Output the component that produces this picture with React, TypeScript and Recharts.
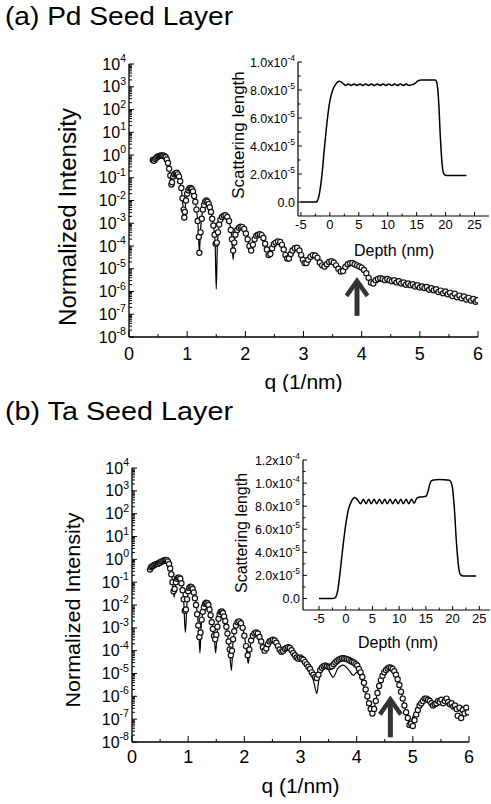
import React from 'react';
import { ComposedChart, LineChart, Line, Scatter, XAxis, YAxis, ReferenceLine } from 'recharts';

const FONT = '"Liberation Sans", Arial, Helvetica, sans-serif';

// ---------- main axes ----------
const qMajorTicks = [0, 1, 2, 3, 4, 5, 6];
const qMinorTicks = [0.5, 1.5, 2.5, 3.5, 4.5, 5.5];
const intensityExponents = [4, 3, 2, 1, 0, -1, -2, -3, -4, -5, -6, -7, -8];

// ---------- (a) Pd seed layer : [q (1/nm), log10 normalized intensity] ----------
const pdFitLog: [number, number][] = [
  [0.41, -0.25], [0.45, -0.15], [0.5, -0.06], [0.55, -0.02], [0.6, -0.03], [0.64, -0.12], [0.68, -0.45],
  [0.71, -0.95], [0.73, -1.35], [0.75, -1.1], [0.78, -0.85], [0.82, -0.78], [0.86, -0.95], [0.9, -1.5],
  [0.93, -2.3], [0.95, -2.85], [0.97, -2.2], [1.0, -1.7], [1.05, -1.45], [1.1, -1.6], [1.15, -2.2],
  [1.19, -3.2], [1.21, -4.3], [1.23, -3.3], [1.27, -2.4], [1.33, -2.0], [1.38, -2.2], [1.43, -2.8],
  [1.48, -3.8], [1.5, -5.9], [1.52, -3.9], [1.56, -3.0], [1.62, -2.7], [1.68, -2.65], [1.73, -3.0],
  [1.77, -3.7], [1.79, -4.6], [1.81, -3.9], [1.86, -3.3], [1.93, -3.15], [1.98, -3.25], [2.04, -3.7],
  [2.1, -4.25], [2.15, -3.85], [2.2, -3.55], [2.26, -3.5], [2.32, -3.7], [2.37, -4.1], [2.42, -4.45],
  [2.47, -4.15], [2.53, -3.85], [2.59, -3.8], [2.65, -4.05], [2.7, -4.4], [2.75, -4.6], [2.8, -4.3],
  [2.87, -4.08], [2.93, -4.2], [2.98, -4.55], [3.04, -4.8], [3.1, -4.55], [3.18, -4.4], [3.25, -4.55],
  [3.31, -4.8], [3.37, -4.9], [3.43, -4.72], [3.49, -4.67], [3.55, -4.8], [3.61, -5.05], [3.66, -5.15],
  [3.72, -4.9], [3.8, -4.76], [3.88, -4.8], [3.95, -4.88], [4.02, -4.97], [4.08, -5.15], [4.14, -5.45],
  [4.19, -5.65], [4.25, -5.5], [4.35, -5.44], [4.45, -5.48], [4.55, -5.55], [4.65, -5.6], [4.75, -5.65],
  [4.85, -5.7], [4.95, -5.74], [5.05, -5.8], [5.15, -5.85], [5.25, -5.92], [5.35, -6.0], [5.45, -6.08],
  [5.55, -6.15], [5.65, -6.22], [5.75, -6.3], [5.85, -6.36], [5.98, -6.43],
];

const pdObsLog: [number, number][] = [
  [0.41, -0.22], [0.43, -0.25], [0.45, -0.18], [0.47, -0.12], [0.49, -0.08], [0.51, -0.05], [0.53, -0.04],
  [0.55, -0.02], [0.57, -0.03], [0.59, -0.02], [0.61, -0.05], [0.63, -0.1], [0.65, -0.2], [0.67, -0.35],
  [0.69, -0.6], [0.71, -0.9], [0.73, -1.3], [0.74, -1.2], [0.76, -0.95], [0.78, -0.85], [0.8, -0.8],
  [0.82, -0.78], [0.84, -0.85], [0.86, -0.95], [0.88, -1.15], [0.9, -1.45], [0.92, -1.9], [0.94, -2.4],
  [0.95, -2.75], [0.96, -2.5], [0.98, -2.0], [1.0, -1.7], [1.02, -1.55], [1.04, -1.47], [1.06, -1.45],
  [1.08, -1.5], [1.1, -1.6], [1.12, -1.8], [1.14, -2.05], [1.16, -2.4], [1.18, -2.9], [1.2, -3.6],
  [1.21, -4.3], [1.23, -3.4], [1.25, -2.8], [1.27, -2.4], [1.29, -2.2], [1.31, -2.05], [1.33, -2.0],
  [1.35, -2.05], [1.37, -2.15], [1.39, -2.3], [1.41, -2.5], [1.43, -2.8], [1.45, -3.1], [1.47, -3.5],
  [1.49, -3.9], [1.51, -3.85], [1.53, -3.4], [1.55, -3.05], [1.57, -2.85], [1.6, -2.72], [1.63, -2.67],
  [1.66, -2.65], [1.69, -2.72], [1.72, -2.9], [1.75, -3.3], [1.77, -3.7], [1.79, -4.2], [1.81, -3.85],
  [1.83, -3.5], [1.86, -3.3], [1.89, -3.2], [1.92, -3.15], [1.95, -3.17], [1.98, -3.25], [2.01, -3.45],
  [2.04, -3.7], [2.07, -4.0], [2.1, -4.2], [2.13, -3.95], [2.16, -3.7], [2.19, -3.55], [2.22, -3.5],
  [2.25, -3.48], [2.28, -3.52], [2.31, -3.65], [2.34, -3.9], [2.37, -4.15], [2.4, -4.4], [2.43, -4.35],
  [2.46, -4.1], [2.49, -3.92], [2.52, -3.85], [2.56, -3.8], [2.6, -3.82], [2.63, -3.95], [2.66, -4.15],
  [2.69, -4.4], [2.72, -4.55], [2.75, -4.55], [2.78, -4.35], [2.81, -4.2], [2.85, -4.1], [2.89, -4.08],
  [2.93, -4.2], [2.96, -4.4], [2.99, -4.6], [3.02, -4.75], [3.05, -4.75], [3.08, -4.6], [3.12, -4.47],
  [3.16, -4.4], [3.2, -4.42], [3.24, -4.52], [3.28, -4.72], [3.32, -4.85], [3.36, -4.9], [3.4, -4.8],
  [3.44, -4.7], [3.48, -4.67], [3.52, -4.72], [3.56, -4.85], [3.6, -5.0], [3.64, -5.12], [3.68, -5.1],
  [3.72, -4.92], [3.76, -4.8], [3.8, -4.76], [3.84, -4.75], [3.88, -4.8], [3.92, -4.85], [3.96, -4.9],
  [4.0, -4.95], [4.04, -5.05], [4.08, -5.2], [4.12, -5.4], [4.16, -5.6], [4.2, -5.65], [4.24, -5.5],
  [4.28, -5.45], [4.32, -5.42], [4.36, -5.45], [4.4, -5.5], [4.44, -5.45], [4.48, -5.5], [4.52, -5.55],
  [4.56, -5.5], [4.6, -5.6], [4.64, -5.55], [4.68, -5.65], [4.72, -5.6], [4.76, -5.7], [4.8, -5.65],
  [4.84, -5.72], [4.88, -5.68], [4.92, -5.78], [4.96, -5.72], [5.0, -5.82], [5.04, -5.78], [5.08, -5.85],
  [5.12, -5.8], [5.16, -5.92], [5.2, -5.86], [5.24, -5.95], [5.28, -5.9], [5.32, -6.02], [5.36, -5.96],
  [5.4, -6.08], [5.44, -6.0], [5.48, -6.12], [5.52, -6.06], [5.56, -6.2], [5.6, -6.1], [5.64, -6.25],
  [5.68, -6.18], [5.72, -6.3], [5.76, -6.22], [5.8, -6.35], [5.84, -6.28], [5.88, -6.4], [5.92, -6.33],
  [5.96, -6.45], [5.99, -6.38],
];

// ---------- (b) Ta seed layer ----------
const taFitLog: [number, number][] = [
  [0.32, -0.4], [0.38, -0.3], [0.45, -0.2], [0.52, -0.1], [0.58, -0.04], [0.62, -0.03], [0.66, -0.15],
  [0.7, -0.55], [0.73, -1.2], [0.75, -1.66], [0.77, -1.2], [0.81, -0.85], [0.85, -0.78], [0.89, -1.1],
  [0.92, -1.8], [0.95, -3.2], [0.98, -1.9], [1.01, -1.35], [1.05, -1.2], [1.1, -1.4], [1.15, -2.1],
  [1.19, -3.2], [1.21, -4.1], [1.23, -3.0], [1.28, -2.1], [1.33, -1.9], [1.38, -2.2], [1.43, -2.9],
  [1.47, -3.6], [1.49, -4.1], [1.51, -3.4], [1.55, -2.5], [1.59, -2.3], [1.63, -2.45], [1.68, -3.0],
  [1.73, -3.8], [1.77, -4.86], [1.8, -3.6], [1.85, -2.95], [1.91, -2.72], [1.96, -2.9], [2.01, -3.5],
  [2.05, -4.2], [2.07, -4.56], [2.1, -3.9], [2.16, -3.35], [2.23, -3.2], [2.29, -3.5], [2.34, -3.9],
  [2.37, -4.07], [2.42, -3.75], [2.48, -3.58], [2.54, -3.54], [2.6, -3.75], [2.67, -4.1], [2.73, -3.95],
  [2.81, -3.9], [2.88, -4.15], [2.95, -4.4], [3.0, -4.3], [3.06, -4.35], [3.12, -4.6], [3.18, -4.9],
  [3.24, -5.4], [3.29, -5.87], [3.33, -5.2], [3.38, -4.8], [3.43, -4.63], [3.5, -4.85], [3.58, -5.17],
  [3.66, -4.8], [3.76, -4.63], [3.86, -4.85], [3.94, -5.08], [4.0, -4.95], [4.06, -5.1], [4.12, -5.5],
  [4.18, -6.0], [4.24, -6.5], [4.29, -6.75], [4.34, -6.2], [4.4, -5.5], [4.48, -5.0], [4.59, -4.73],
  [4.68, -4.9], [4.76, -5.5], [4.84, -6.3], [4.9, -6.9], [4.95, -7.2], [5.0, -6.9], [5.06, -6.6],
  [5.12, -6.35], [5.2, -6.15], [5.28, -6.2], [5.36, -6.3], [5.44, -6.4], [5.52, -6.25], [5.6, -6.2],
  [5.68, -6.35], [5.76, -6.5], [5.84, -6.45], [5.92, -6.5],
];

const taObsLog: [number, number][] = [
  [0.32, -0.45], [0.34, -0.35], [0.36, -0.3], [0.38, -0.28], [0.4, -0.25], [0.42, -0.22], [0.44, -0.2],
  [0.46, -0.2], [0.48, -0.15], [0.5, -0.15], [0.52, -0.1], [0.54, -0.1], [0.56, -0.06], [0.58, -0.04],
  [0.6, -0.03], [0.62, -0.04], [0.64, -0.1], [0.66, -0.2], [0.68, -0.4], [0.7, -0.65], [0.72, -1.0],
  [0.74, -1.4], [0.76, -1.3], [0.78, -1.0], [0.8, -0.85], [0.82, -0.8], [0.84, -0.8], [0.86, -0.85],
  [0.88, -1.05], [0.9, -1.35], [0.92, -1.75], [0.94, -2.25], [0.96, -2.2], [0.98, -1.75], [1.0, -1.4],
  [1.02, -1.25], [1.04, -1.2], [1.06, -1.22], [1.08, -1.3], [1.1, -1.45], [1.12, -1.7], [1.14, -2.0],
  [1.16, -2.4], [1.18, -2.9], [1.2, -3.4], [1.22, -3.2], [1.24, -2.65], [1.26, -2.3], [1.28, -2.1],
  [1.3, -1.95], [1.32, -1.9], [1.34, -1.92], [1.36, -2.0], [1.38, -2.2], [1.4, -2.45], [1.42, -2.75],
  [1.44, -3.05], [1.46, -3.35], [1.48, -3.5], [1.5, -3.3], [1.52, -2.95], [1.54, -2.6], [1.56, -2.4],
  [1.58, -2.3], [1.6, -2.28], [1.62, -2.35], [1.64, -2.5], [1.66, -2.7], [1.68, -2.95], [1.7, -3.25],
  [1.72, -3.6], [1.74, -3.95], [1.76, -4.2], [1.78, -4.0], [1.8, -3.5], [1.82, -3.15], [1.85, -2.9],
  [1.88, -2.75], [1.91, -2.72], [1.94, -2.8], [1.97, -3.0], [2.0, -3.35], [2.03, -3.8], [2.06, -4.2],
  [2.09, -3.95], [2.12, -3.55], [2.15, -3.35], [2.18, -3.25], [2.21, -3.2], [2.24, -3.25], [2.27, -3.4],
  [2.3, -3.6], [2.33, -3.85], [2.36, -4.0], [2.39, -3.9], [2.42, -3.72], [2.45, -3.6], [2.48, -3.55],
  [2.51, -3.52], [2.54, -3.55], [2.57, -3.65], [2.6, -3.8], [2.63, -3.95], [2.66, -4.05], [2.69, -4.0],
  [2.72, -3.92], [2.75, -3.88], [2.78, -3.85], [2.81, -3.88], [2.84, -3.98], [2.87, -4.1], [2.9, -4.2],
  [2.93, -4.3], [2.96, -4.35], [2.99, -4.3], [3.02, -4.35], [3.05, -4.4], [3.08, -4.5], [3.11, -4.6],
  [3.14, -4.7], [3.17, -4.8], [3.2, -4.95], [3.23, -5.05], [3.26, -5.15], [3.29, -5.2], [3.32, -5.05],
  [3.35, -4.85], [3.38, -4.75], [3.41, -4.68], [3.44, -4.65], [3.47, -4.68], [3.5, -4.7], [3.53, -4.72],
  [3.56, -4.68], [3.59, -4.6], [3.62, -4.52], [3.65, -4.45], [3.68, -4.4], [3.71, -4.36], [3.74, -4.33],
  [3.77, -4.33], [3.8, -4.35], [3.83, -4.38], [3.86, -4.4], [3.89, -4.45], [3.92, -4.48], [3.95, -4.52],
  [3.98, -4.58], [4.01, -4.65], [4.04, -4.8], [4.07, -4.95], [4.1, -5.15], [4.13, -5.4], [4.16, -5.7],
  [4.19, -6.0], [4.22, -6.3], [4.25, -6.55], [4.28, -6.75], [4.31, -6.55], [4.34, -6.2], [4.37, -5.85],
  [4.4, -5.55], [4.43, -5.3], [4.46, -5.1], [4.49, -4.95], [4.52, -4.85], [4.55, -4.78], [4.58, -4.73],
  [4.61, -4.75], [4.64, -4.8], [4.67, -4.9], [4.7, -5.05], [4.73, -5.25], [4.76, -5.5], [4.79, -5.8],
  [4.82, -6.1], [4.85, -6.4], [4.88, -6.7], [4.91, -6.95], [4.94, -7.25], [4.97, -7.2], [5.0, -7.3],
  [5.03, -7.05], [5.06, -6.8], [5.09, -6.6], [5.12, -6.4], [5.15, -6.3], [5.18, -6.2], [5.21, -6.1],
  [5.24, -6.1], [5.27, -6.15], [5.3, -6.2], [5.33, -6.3], [5.36, -6.4], [5.39, -6.35], [5.42, -6.3],
  [5.45, -6.2], [5.48, -6.25], [5.51, -6.15], [5.54, -6.3], [5.57, -6.2], [5.6, -6.1], [5.63, -6.25],
  [5.66, -6.35], [5.69, -6.3], [5.72, -6.45], [5.75, -6.4], [5.78, -6.55], [5.8, -6.85], [5.83, -6.5],
  [5.86, -6.95], [5.89, -6.6], [5.92, -6.75], [5.95, -6.5], [5.98, -6.7],
];

// arrows marking the feature: q position, base and tip intensities
const pdArrow = { q: 3.92, base: 8.5e-8, tip: 3.6e-6 };
const taArrow = { q: 4.6, base: 1.6e-8, tip: 9e-7 };

// ---------- insets : [depth (nm), scattering length in units of 1e-5] ----------
const depthMajorTicks = [-5, 0, 5, 10, 15, 20, 25];
const depthMinorTicks = [-2.5, 2.5, 7.5, 12.5, 17.5, 22.5];

const pdProfile: [number, number][] = [
  [-5, 0], [-2.5, 0], [-2.2, 0.05], [-1.8, 0.6], [-1.4, 1.8], [-0.9, 4.0], [-0.4, 6.0], [0, 7.2],
  [0.5, 8.0], [1.0, 8.4], [1.6, 8.62], [2.2, 8.5], [2.7, 8.33], [3.2, 8.42], [3.7, 8.33], [4.2, 8.42],
  [4.7, 8.33], [5.2, 8.42], [5.7, 8.33], [6.2, 8.42], [6.7, 8.33], [7.2, 8.42], [7.7, 8.33], [8.2, 8.42],
  [8.7, 8.33], [9.2, 8.42], [9.7, 8.33], [10.2, 8.42], [10.7, 8.33], [11.2, 8.42], [11.7, 8.33],
  [12.2, 8.42], [12.7, 8.33], [13.2, 8.42], [13.7, 8.33], [14.2, 8.38], [14.7, 8.45], [15.2, 8.65],
  [15.8, 8.72], [17, 8.72], [18.2, 8.72], [18.5, 8.5], [18.8, 7.2], [19.1, 4.6], [19.4, 2.7],
  [19.7, 2.0], [20.1, 1.9], [21.5, 1.9], [23.6, 1.9],
];

const taProfile: [number, number][] = [
  [-5, 0], [-2.5, 0], [-2.0, 0.05], [-1.5, 0.7], [-1.0, 2.5], [-0.5, 4.6], [0, 6.4], [0.5, 7.7],
  [1.0, 8.35], [1.7, 8.75], [2.3, 8.5], [2.8, 8.2], [3.3, 8.6], [3.8, 8.2], [4.3, 8.6], [4.8, 8.2],
  [5.3, 8.6], [5.8, 8.2], [6.3, 8.6], [6.8, 8.2], [7.3, 8.6], [7.8, 8.2], [8.3, 8.6], [8.8, 8.2],
  [9.3, 8.6], [9.8, 8.2], [10.3, 8.6], [10.8, 8.2], [11.3, 8.6], [11.8, 8.2], [12.3, 8.6], [12.8, 8.25],
  [13.3, 8.7], [14, 8.8], [15, 8.85], [15.4, 9.3], [15.8, 10.0], [16.2, 10.25], [17.5, 10.3],
  [19.4, 10.25], [19.9, 9.8], [20.3, 8.0], [20.7, 5.0], [21.1, 2.8], [21.5, 2.05], [22, 1.95], [24.4, 1.95],
];

const slTicksA = [
  { v: 0, m: '0.0', e: '' }, { v: 2, m: '2.0x10', e: '-5' }, { v: 4, m: '4.0x10', e: '-5' },
  { v: 6, m: '6.0x10', e: '-5' }, { v: 8, m: '8.0x10', e: '-5' }, { v: 10, m: '1.0x10', e: '-4' },
];
const slTicksB = [
  { v: 0, m: '0.0', e: '' }, { v: 2, m: '2.0x10', e: '-5' }, { v: 4, m: '4.0x10', e: '-5' },
  { v: 6, m: '6.0x10', e: '-5' }, { v: 8, m: '8.0x10', e: '-5' }, { v: 10, m: '1.0x10', e: '-4' },
  { v: 12, m: '1.2x10', e: '-4' },
];
const slMinorA = [1, 3, 5, 7, 9];
const slMinorB = [1, 3, 5, 7, 9, 11];

// ---------- helpers ----------
const toRows = (arr: [number, number][]) => arr.map(([q, lg]) => ({ q, I: Math.pow(10, lg) }));
const toProfileRows = (arr: [number, number][]) => arr.map(([d, s]) => ({ d, s }));

const majorIntensityTicks = intensityExponents.map((e) => Math.pow(10, e));
const minorIntensityTicks: number[] = [];
intensityExponents.slice(1).forEach((e) => {
  for (let m = 2; m <= 9; m++) minorIntensityTicks.push(m * Math.pow(10, e));
});
const allIntensityTicks = [...majorIntensityTicks, ...minorIntensityTicks];

const makeLogTick = (fontSize: number) => (props: any) => {
  const { x, y, payload } = props;
  const v = payload.value as number;
  const e = Math.round(Math.log10(v));
  const major = Math.abs(v / Math.pow(10, e) - 1) < 1e-6;
  return (
    <g>
      <line x1={x} x2={x + (major ? 5 : 3)} y1={y} y2={y} stroke="#000" strokeWidth={1} />
      {major && (
        <text x={x - 3} y={y + 5.5} textAnchor="end" fontFamily={FONT} fontSize={fontSize} fill="#000">
          10
          <tspan dy={-7.5} fontSize={fontSize * 0.66}>{e}</tspan>
        </text>
      )}
    </g>
  );
};

const makeQTick = (labelOffset: number) => (props: any) => {
  const { x, y, payload } = props;
  const v = payload.value as number;
  const major = qMajorTicks.includes(v);
  return (
    <g>
      <line x1={x} x2={x} y1={y} y2={y - (major ? 6 : 3)} stroke="#000" strokeWidth={1} />
      {major && (
        <text x={x} y={y + labelOffset} textAnchor="middle" fontFamily={FONT} fontSize={18} fill="#000">
          {v}
        </text>
      )}
    </g>
  );
};

const ArrowShape = (p: any) => {
  const { x1, y1, y2 } = p;
  const top = Math.min(y1, y2);
  const bottom = Math.max(y1, y2);
  const headH = 17;
  const headW = 21;
  return (
    <g>
      <line x1={x1} x2={x1} y1={bottom} y2={top + 3} stroke="#333" strokeWidth={5} />
      <polyline
        points={`${x1 - headW / 2},${top + headH} ${x1},${top + 2} ${x1 + headW / 2},${top + headH}`}
        fill="none"
        stroke="#333"
        strokeWidth={4.5}
        strokeLinejoin="miter"
      />
    </g>
  );
};

const Dot = (p: any) => (
  <circle cx={p.cx} cy={p.cy} r={2.6} fill="#fff" stroke="#111" strokeWidth={1.2} />
);

type PanelProps = {
  title: string;
  fit: [number, number][];
  obs: [number, number][];
  arrow: { q: number; base: number; tip: number };
  height: number;
  marginTop: number;
  marginRight: number;
  marginBottom: number;
  yAxisWidth: number;
  titleY: number;
  yTitle: { x: number; y: number; size: number; len: number };
  xTitleY: number;
  qLabelOffset: number;
};

const MainPanel = (p: PanelProps) => {
  const fitRows = toRows(p.fit);
  const obsRows = toRows(p.obs);
  const LogTick = makeLogTick(16);
  const QTick = makeQTick(p.qLabelOffset);
  const plotLeft = p.yAxisWidth;
  const plotRight = 491 - p.marginRight;
  return (
    <ComposedChart
      width={491}
      height={p.height}
      margin={{ top: p.marginTop, right: p.marginRight, bottom: p.marginBottom, left: 0 }}
    >
      <XAxis
        type="number"
        dataKey="q"
        domain={[0, 6]}
        ticks={[...qMajorTicks, ...qMinorTicks]}
        interval={0}
        tick={<QTick />}
        tickLine={false}
        tickSize={0}
        tickMargin={0}
        height={55}
        axisLine={{ stroke: '#000', strokeWidth: 1.3 }}
        allowDataOverflow
      />
      <YAxis
        type="number"
        dataKey="I"
        scale="log"
        domain={[1e-8, 1e4]}
        ticks={allIntensityTicks}
        interval={0}
        tick={<LogTick />}
        tickLine={false}
        tickSize={0}
        tickMargin={0}
        width={p.yAxisWidth}
        axisLine={{ stroke: '#000', strokeWidth: 1.3 }}
        allowDataOverflow
      />
      <Scatter data={obsRows} dataKey="I" shape={<Dot />} isAnimationActive={false} />
      <Line
        data={fitRows}
        dataKey="I"
        type="monotone"
        dot={false}
        stroke="#000"
        strokeWidth={1.2}
        isAnimationActive={false}
      />
      <ReferenceLine
        segment={[
          { x: p.arrow.q, y: p.arrow.base },
          { x: p.arrow.q, y: p.arrow.tip },
        ]}
        ifOverflow="visible"
        shape={ArrowShape}
      />
      <text x={5} y={p.titleY} fontFamily={FONT} fontSize={25} fill="#000" textLength={228} lengthAdjust="spacingAndGlyphs">
        {p.title}
      </text>
      <text
        x={p.yTitle.x}
        y={p.yTitle.y}
        transform={`rotate(-90 ${p.yTitle.x} ${p.yTitle.y})`}
        textAnchor="middle"
        dominantBaseline="central"
        fontFamily={FONT}
        fontSize={p.yTitle.size}
        fill="#000"
        textLength={p.yTitle.len}
        lengthAdjust="spacingAndGlyphs"
      >
        Normalized Intensity
      </text>
      <text
        x={(plotLeft + plotRight) / 2}
        y={p.xTitleY}
        textAnchor="middle"
        fontFamily={FONT}
        fontSize={21}
        fill="#000"
      >
        q (1/nm)
      </text>
    </ComposedChart>
  );
};

type InsetProps = {
  profile: [number, number][];
  domainX: [number, number];
  domainY: [number, number];
  yTicks: { v: number; m: string; e: string }[];
  yMinor: number[];
  width: number;
  height: number;
  margin: { top: number; right: number; bottom: number; left: number };
  yAxisWidth: number;
  yTitle: { x: number; y: number; size: number };
  xTitle: { x: number; y: number };
};

const Inset = (p: InsetProps) => {
  const rows = toProfileRows(p.profile);
  const depthTicks = [...depthMajorTicks, ...depthMinorTicks];
  const yAll = [...p.yTicks.map((t) => t.v), ...p.yMinor];
  const BottomTick = (props: any) => {
    const { x, y, payload } = props;
    const major = depthMajorTicks.includes(payload.value);
    return (
      <g>
        <line x1={x} x2={x} y1={y} y2={y - (major ? 4 : 2.5)} stroke="#000" />
        {major && (
          <text x={x} y={y + 13} textAnchor="middle" fontFamily={FONT} fontSize={13} fill="#000">
            {payload.value}
          </text>
        )}
      </g>
    );
  };
  const TopTick = (props: any) => {
    const { x, y, payload } = props;
    const major = depthMajorTicks.includes(payload.value);
    return <line x1={x} x2={x} y1={y} y2={y + (major ? 4 : 2.5)} stroke="#000" />;
  };
  const LeftTick = (props: any) => {
    const { x, y, payload } = props;
    const t = p.yTicks.find((k) => k.v === payload.value);
    return (
      <g>
        <line x1={x} x2={x + (t ? 4 : 2.5)} y1={y} y2={y} stroke="#000" />
        {t && (
          <text x={x - 3} y={y + 4.5} textAnchor="end" fontFamily={FONT} fontSize={12.5} fill="#000">
            {t.m}
            {t.e && (
              <tspan dy={-6} fontSize={8.5}>
                {t.e}
              </tspan>
            )}
          </text>
        )}
      </g>
    );
  };
  const RightTick = (props: any) => {
    const { x, y, payload } = props;
    const major = p.yTicks.some((k) => k.v === payload.value);
    return <line x1={x} x2={x - (major ? 4 : 2.5)} y1={y} y2={y} stroke="#000" />;
  };
  return (
    <LineChart width={p.width} height={p.height} margin={p.margin}>
      <XAxis
        xAxisId="b"
        type="number"
        dataKey="d"
        domain={p.domainX}
        ticks={depthTicks}
        interval={0}
        tick={<BottomTick />}
        tickLine={false}
        tickSize={0}
        tickMargin={0}
        height={45}
        axisLine={{ stroke: '#000', strokeWidth: 1.2 }}
        allowDataOverflow
      />
      <XAxis
        xAxisId="t"
        orientation="top"
        type="number"
        domain={p.domainX}
        ticks={depthTicks}
        interval={0}
        tick={<TopTick />}
        tickLine={false}
        tickSize={0}
        tickMargin={0}
        height={0}
        axisLine={{ stroke: '#000', strokeWidth: 1.2 }}
        allowDataOverflow
      />
      <YAxis
        yAxisId="l"
        type="number"
        dataKey="s"
        domain={p.domainY}
        ticks={yAll}
        interval={0}
        tick={<LeftTick />}
        tickLine={false}
        tickSize={0}
        tickMargin={0}
        width={p.yAxisWidth}
        axisLine={{ stroke: '#000', strokeWidth: 1.2 }}
        allowDataOverflow
      />
      <YAxis
        yAxisId="r"
        orientation="right"
        type="number"
        domain={p.domainY}
        ticks={yAll}
        interval={0}
        tick={<RightTick />}
        tickLine={false}
        tickSize={0}
        tickMargin={0}
        width={0}
        axisLine={{ stroke: '#000', strokeWidth: 1.2 }}
        allowDataOverflow
      />
      <Line
        xAxisId="b"
        yAxisId="l"
        data={rows}
        dataKey="s"
        type="monotone"
        dot={false}
        stroke="#000"
        strokeWidth={1.5}
        isAnimationActive={false}
      />
      <text
        x={p.yTitle.x}
        y={p.yTitle.y}
        transform={`rotate(-90 ${p.yTitle.x} ${p.yTitle.y})`}
        textAnchor="middle"
        dominantBaseline="central"
        fontFamily={FONT}
        fontSize={p.yTitle.size}
        fill="#000"
      >
        Scattering length
      </text>
      <text x={p.xTitle.x} y={p.xTitle.y} textAnchor="middle" fontFamily={FONT} fontSize={16} fill="#000">
        Depth (nm)
      </text>
    </LineChart>
  );
};

export default function App() {
  return (
    <div
      style={{
        position: 'absolute',
        left: 0,
        top: 0,
        width: 491,
        height: 804,
        background: '#fff',
        overflow: 'hidden',
        fontFamily: FONT,
      }}
    >
      <div style={{ position: 'absolute', left: 0, top: 0 }}>
        <MainPanel
          title="(a) Pd Seed Layer"
          fit={pdFitLog}
          obs={pdObsLog}
          arrow={pdArrow}
          height={392}
          marginTop={64}
          marginRight={13}
          marginBottom={0}
          yAxisWidth={129}
          titleY={25}
          yTitle={{ x: 68, y: 217, size: 23, len: 218 }}
          xTitleY={389}
          qLabelOffset={23}
        />
      </div>
      <div style={{ position: 'absolute', left: 0, top: 392 }}>
        <MainPanel
          title="(b) Ta Seed Layer"
          fit={taFitLog}
          obs={taObsLog}
          arrow={taArrow}
          height={412}
          marginTop={76}
          marginRight={22}
          marginBottom={7}
          yAxisWidth={132}
          titleY={28}
          yTitle={{ x: 72, y: 218, size: 21, len: 195 }}
          xTitleY={401}
          qLabelOffset={21}
        />
      </div>
      <div style={{ position: 'absolute', left: 220, top: 40 }}>
        <Inset
          profile={pdProfile}
          domainX={[-5.5, 27.5]}
          domainY={[-1, 10]}
          yTicks={slTicksA}
          yMinor={slMinorA}
          width={271}
          height={230}
          margin={{ top: 22, right: 2, bottom: 9, left: 0 }}
          yAxisWidth={78}
          yTitle={{ x: 18, y: 95, size: 17 }}
          xTitle={{ x: 174, y: 216 }}
        />
      </div>
      <div style={{ position: 'absolute', left: 220, top: 440 }}>
        <Inset
          profile={taProfile}
          domainX={[-8, 27]}
          domainY={[-1, 12]}
          yTicks={slTicksB}
          yMinor={slMinorB}
          width={271}
          height={220}
          margin={{ top: 20, right: 1, bottom: 5, left: 0 }}
          yAxisWidth={83}
          yTitle={{ x: 21, y: 93, size: 16 }}
          xTitle={{ x: 178, y: 208 }}
        />
      </div>
    </div>
  );
}
